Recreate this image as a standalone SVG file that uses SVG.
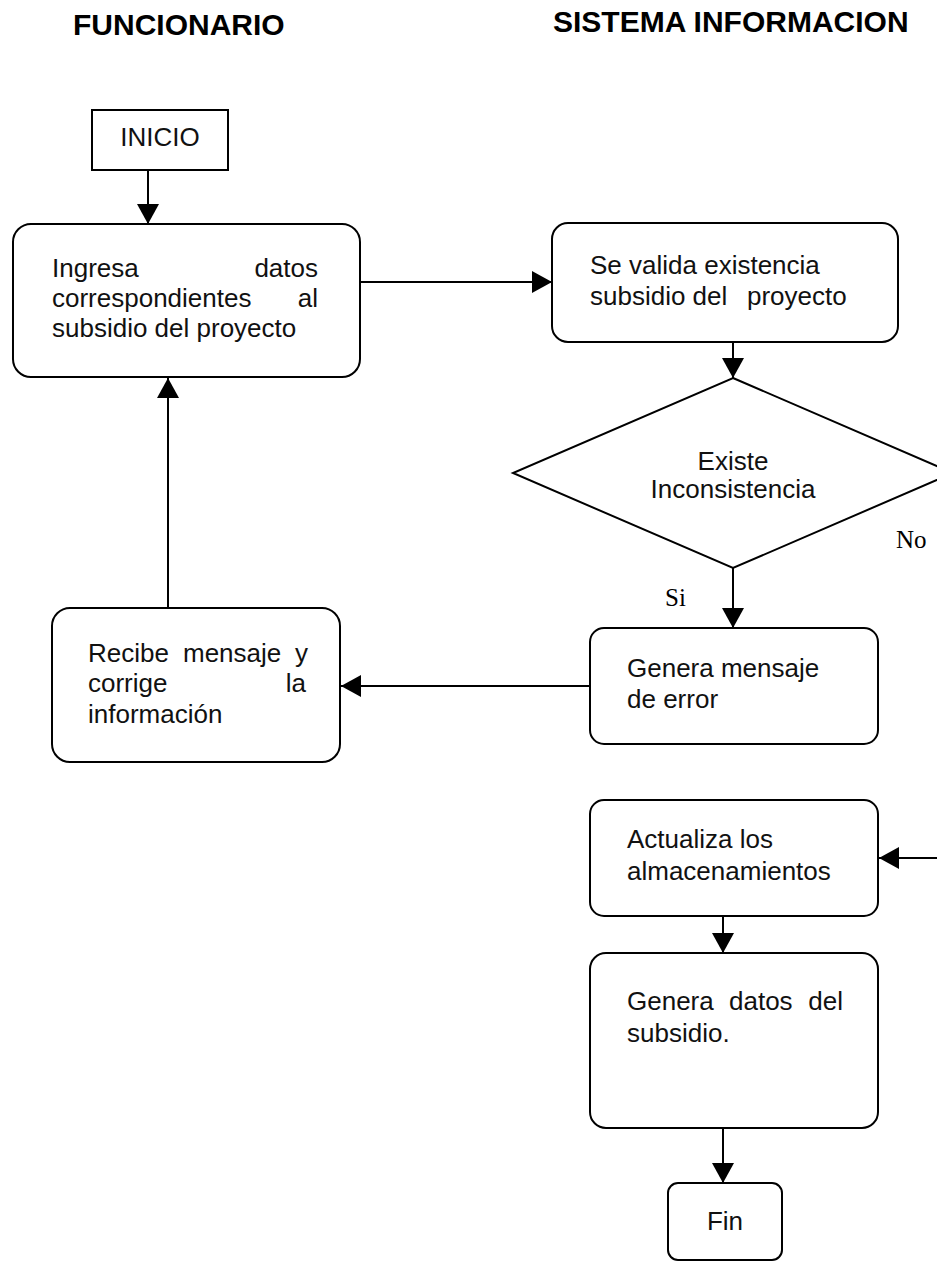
<svg xmlns="http://www.w3.org/2000/svg" width="937" height="1262" viewBox="0 0 937 1262">
  <style>
    .box { fill: #ffffff; stroke: #000000; stroke-width: 2; }
    .lane { font-family: "Liberation Sans", Arial, sans-serif; font-weight: bold; font-size: 30px; fill: #000000; }
    .t { font-family: "Liberation Sans", Arial, sans-serif; font-size: 26px; fill: #111111; }
    .lbl { font-family: "Liberation Serif", "Times New Roman", serif; font-size: 25px; fill: #000000; }
    .conn { fill: none; stroke: #000000; stroke-width: 2; }
  </style>
  <defs>
    <marker id="arrow" markerUnits="userSpaceOnUse" markerWidth="20" markerHeight="22" refX="20" refY="11" orient="auto">
      <path d="M0,0 L20,11 L0,22 Z" fill="#000000"/>
    </marker>
  </defs>

  <rect x="0" y="0" width="937" height="1262" fill="#ffffff"/>

  <!-- swimlane headings -->
  <text class="lane" x="73" y="35">FUNCIONARIO</text>
  <text class="lane" x="553" y="32">SISTEMA INFORMACION</text>

  <!-- connectors -->
  <g id="connectors">
    <path class="conn" d="M148,170 V224" marker-end="url(#arrow)"/>
    <path class="conn" d="M360,282 H552" marker-end="url(#arrow)"/>
    <path class="conn" d="M733,342 V378" marker-end="url(#arrow)"/>
    <path class="conn" d="M733,568 V628" marker-end="url(#arrow)"/>
    <path class="conn" d="M590,686 H341" marker-end="url(#arrow)"/>
    <path class="conn" d="M168,608 V378" marker-end="url(#arrow)"/>
    <path class="conn" d="M940,858 H879" marker-end="url(#arrow)"/>
    <path class="conn" d="M723,916 V953" marker-end="url(#arrow)"/>
    <path class="conn" d="M723,1128 V1183" marker-end="url(#arrow)"/>
  </g>

  <g id="inicio">
    <rect class="box" x="92" y="110" width="136" height="60"/>
    <text class="t" x="160" y="146" text-anchor="middle">INICIO</text>
  </g>

  <g id="ingresa">
    <rect class="box" x="13" y="224" width="347" height="153" rx="18" ry="18"/>
    <text class="t" x="52" y="277">Ingresa</text>
    <text class="t" x="318" y="277" text-anchor="end">datos</text>
    <text class="t" x="52" y="307">correspondientes</text>
    <text class="t" x="318" y="307" text-anchor="end">al</text>
    <text class="t" x="52" y="337">subsidio del proyecto</text>
  </g>

  <g id="valida">
    <rect class="box" x="552" y="223" width="346" height="119" rx="16" ry="16"/>
    <text class="t" x="590" y="274">Se valida existencia</text>
    <text class="t" x="590" y="305">subsidio del</text>
    <text class="t" x="747" y="305">proyecto</text>
  </g>

  <g id="decision">
    <polygon class="box" points="733,378 953,473 733,568 513,473"/>
    <text class="t" x="733" y="470" text-anchor="middle">Existe</text>
    <text class="t" x="733" y="498" text-anchor="middle">Inconsistencia</text>
    <text class="lbl" x="896" y="548">No</text>
    <text class="lbl" x="665" y="606">Si</text>
  </g>

  <g id="error">
    <rect class="box" x="590" y="628" width="288" height="116" rx="14" ry="14"/>
    <text class="t" x="627" y="677">Genera mensaje</text>
    <text class="t" x="627" y="708">de error</text>
  </g>

  <g id="recibe">
    <rect class="box" x="52" y="608" width="288" height="154" rx="18" ry="18"/>
    <text class="t" x="88" y="662">Recibe</text>
    <text class="t" x="183" y="662">mensaje</text>
    <text class="t" x="308" y="662" text-anchor="end">y</text>
    <text class="t" x="88" y="692">corrige</text>
    <text class="t" x="306" y="692" text-anchor="end">la</text>
    <text class="t" x="88" y="723">información</text>
  </g>

  <g id="actualiza">
    <rect class="box" x="590" y="800" width="288" height="116" rx="14" ry="14"/>
    <text class="t" x="627" y="848">Actualiza los</text>
    <text class="t" x="627" y="880">almacenamientos</text>
  </g>

  <g id="generadatos">
    <rect class="box" x="590" y="953" width="288" height="175" rx="16" ry="16"/>
    <text class="t" x="627" y="1010">Genera</text>
    <text class="t" x="729" y="1010">datos</text>
    <text class="t" x="843" y="1010" text-anchor="end">del</text>
    <text class="t" x="627" y="1042">subsidio.</text>
  </g>

  <g id="fin">
    <rect class="box" x="668" y="1183" width="114" height="77" rx="10" ry="10"/>
    <text class="t" x="725" y="1230" text-anchor="middle">Fin</text>
  </g>
</svg>
